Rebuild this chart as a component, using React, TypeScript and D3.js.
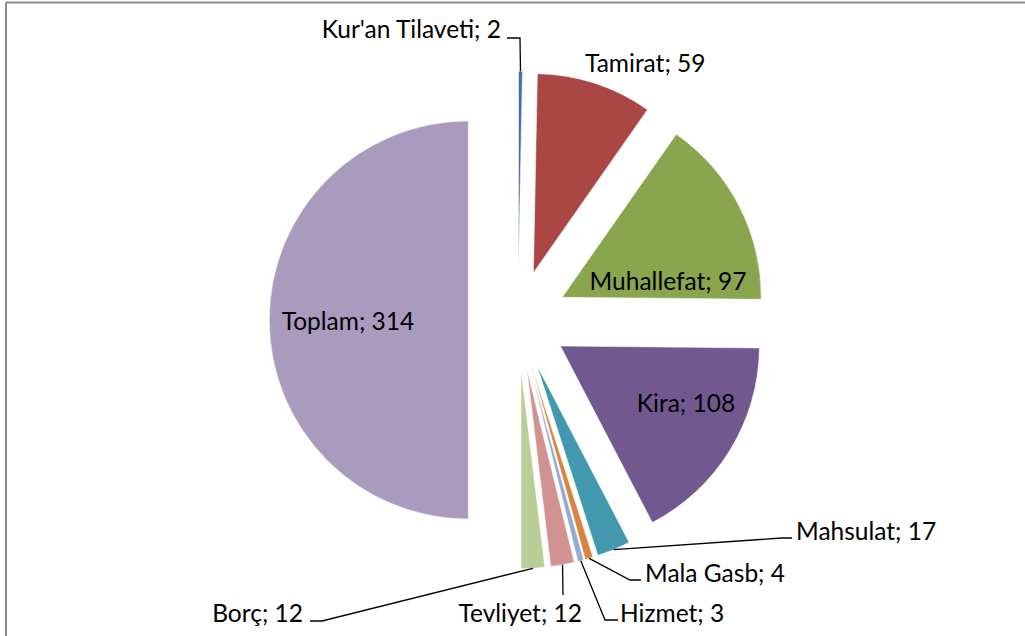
import React from "react";
import * as d3 from "d3";

const categories = ["Kur'an Tilaveti", "Tamirat", "Muhallefat", "Kira", "Mahsulat", "Mala Gasb", "Hizmet", "Tevliyet", "Borç", "Toplam"];
const values = [2, 59, 97, 108, 17, 4, 3, 12, 12, 314];
const colors = ["#4572A7", "#AA4643", "#89A54E", "#71588F", "#4198AF", "#DB843D", "#93A9CF", "#D19392", "#B9CD96", "#A99BBD"];

// layout for labels (not data)
type LabelLayout = { x: number; y: number; anchor: "start" | "middle" | "end"; elbow?: [number, number][] };
const labelLayout: LabelLayout[] = [
  { x: 501, y: 38, anchor: "end", elbow: [[520, 38], [507, 38]] },
  { x: 585, y: 72, anchor: "start" },
  { x: 668, y: 290, anchor: "middle" },
  { x: 686, y: 412, anchor: "middle" },
  { x: 796, y: 540, anchor: "start", elbow: [[782, 538], [792, 538]] },
  { x: 645, y: 582, anchor: "start", elbow: [[630, 580], [641, 580]] },
  { x: 620, y: 622, anchor: "start", elbow: [[605, 620], [618, 620]] },
  { x: 582, y: 622, anchor: "end", elbow: [[563, 595]] },
  { x: 303, y: 622, anchor: "end", elbow: [[322, 621], [310, 621]] },
  { x: 348, y: 330, anchor: "middle" },
];

const W = 1025;
const H = 636;
const cx = 518;
const cy = 320;
const R = 199;
const explode = 0.25 * R;

export default function App() {
  const pie = d3.pie<number>().sort(null).value((d) => d).startAngle(0).endAngle(2 * Math.PI);
  const arcs = pie(values);
  const arcGen = d3.arc<d3.PieArcDatum<number>>().innerRadius(0).outerRadius(R);
  const font = "Lato, 'Open Sans', sans-serif";

  return (
    <svg width={W} height={H} style={{ position: "absolute", left: 0, top: 0, background: "#fff" }}>
      <rect x={0} y={0} width={W} height={H} fill="#fff" />
      <line x1={6} y1={2.5} x2={W} y2={2.5} stroke="#8c8c8c" strokeWidth={2} />
      <line x1={6} y1={2.5} x2={6} y2={H} stroke="#8c8c8c" strokeWidth={2} />
      <g transform={`translate(${cx},${cy})`}>
        {arcs.map((a, i) => {
          const mid = (a.startAngle + a.endAngle) / 2;
          const dx = explode * Math.sin(mid);
          const dy = -explode * Math.cos(mid);
          return (
            <path
              key={i}
              d={arcGen(a) || ""}
              transform={`translate(${dx},${dy})`}
              fill={colors[i]}
              stroke="#fff"
              strokeWidth={0.5}
            />
          );
        })}
      </g>
      {arcs.map((a, i) => {
        const L = labelLayout[i];
        const mid = (a.startAngle + a.endAngle) / 2;
        const ox = cx + (R + explode) * Math.sin(mid);
        const oy = cy - (R + explode) * Math.cos(mid);
        const pts: [number, number][] = L.elbow ? [[ox, oy], ...L.elbow] : [];
        return (
          <g key={i}>
            {pts.length > 0 && (
              <polyline
                points={pts.map((p) => p.join(",")).join(" ")}
                fill="none"
                stroke="#000"
                strokeWidth={1.3}
              />
            )}
            <text x={L.x} y={L.y} textAnchor={L.anchor} fontFamily={font} fontSize={24.5} fill="#000">
              {`${categories[i]}; ${values[i]}`}
            </text>
          </g>
        );
      })}
    </svg>
  );
}
